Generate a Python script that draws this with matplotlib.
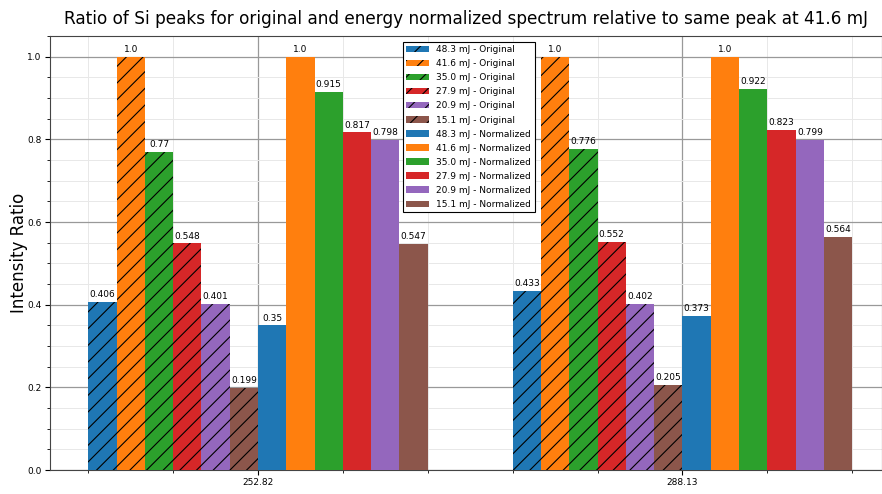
import matplotlib.pyplot as plt
import numpy as np

wavelengths = ["252.82", "288.13"]
energies = ["48.3 mJ", "41.6 mJ", "35.0 mJ", "27.9 mJ", "20.9 mJ", "15.1 mJ"]
colors = ["#1f77b4", "#ff7f0e", "#2ca02c", "#d62728", "#9467bd", "#8c564b"]

# ratio per energy, one value per wavelength
original = [
    [0.406, 0.433],
    [1.0, 1.0],
    [0.77, 0.776],
    [0.548, 0.552],
    [0.401, 0.402],
    [0.199, 0.205],
]
normalized = [
    [0.35, 0.373],
    [1.0, 1.0],
    [0.915, 0.922],
    [0.817, 0.823],
    [0.798, 0.799],
    [0.547, 0.564],
]

plt.rcParams['hatch.linewidth'] = 0.8

fig = plt.figure(figsize=(8.82, 4.94), dpi=100)
ax = fig.add_axes([50/882, 24/494, 832/882, 434/494])

x = np.arange(len(wavelengths))
n = 2 * len(energies)
width = 0.8 / n

k = 0
for i, e in enumerate(energies):
    pos = x - 0.4 + width * (k + 0.5)
    bars = ax.bar(pos, original[i], width, color=colors[i], hatch='//',
                  label=f"{e} - Original", zorder=3)
    ax.bar_label(bars, labels=[str(v) for v in original[i]], padding=2, fontsize=6.5)
    k += 1
for i, e in enumerate(energies):
    pos = x - 0.4 + width * (k + 0.5)
    bars = ax.bar(pos, normalized[i], width, color=colors[i],
                  label=f"{e} - Normalized", zorder=3)
    ax.bar_label(bars, labels=[str(v) for v in normalized[i]], padding=2, fontsize=6.5)
    k += 1

ax.set_xticks(x)
ax.set_xticklabels(wavelengths)
ax.tick_params(which='major', labelsize=6.5, length=3.5, pad=2.5)
ax.tick_params(which='minor', length=2)
ax.set_ylim(0, 1.05)
ax.set_xlim(-0.49, 1.47)
ax.minorticks_on()
ax.grid(which='major', color='#999999', linewidth=0.9, zorder=0)
ax.grid(which='minor', color='#e8e8e8', linewidth=0.7, zorder=0)
ax.set_axisbelow(True)
for s in ax.spines.values():
    s.set_color('#444444')

ax.set_ylabel("Intensity Ratio", fontsize=12)
ax.yaxis.set_label_coords(-0.027, 0.5)
ax.set_xlabel("Wavelength [nm]", fontsize=12)
ax.xaxis.set_label_coords(0.5, -0.058)
ax.set_title("Ratio of Si peaks for original and energy normalized spectrum relative to same peak at 41.6 mJ",
             fontsize=12.2, pad=9)

leg = ax.legend(loc='upper left', bbox_to_anchor=(0.424, 0.987), borderaxespad=0,
                fontsize=6.5, fancybox=False, edgecolor='black', framealpha=1,
                labelspacing=0.56, handlelength=2.5, borderpad=0.4)
leg.get_frame().set_linewidth(0.8)

fig.savefig("out.png", dpi=100)
